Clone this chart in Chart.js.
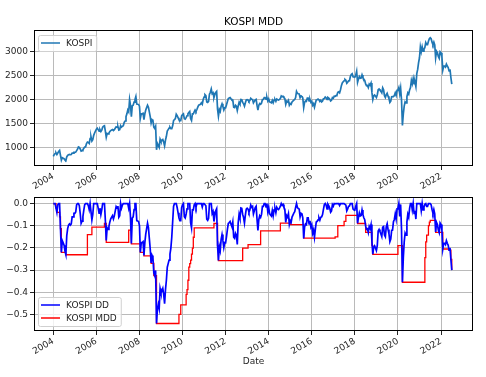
<!DOCTYPE html>
<html>
<head>
<meta charset="utf-8">
<script src="https://cdn.jsdelivr.net/npm/chart.js@4.4.1/dist/chart.umd.min.js"></script>
<style>
  html, body { margin: 0; padding: 0; background: #fff; }
  #wrap { position: relative; width: 486px; height: 377px; }
  canvas { position: absolute; left: 0; }
  #topChart { top: 0; }
  #bottomChart { top: 190px; }
</style>
</head>
<body>
<div id="wrap">
  <canvas id="topChart" width="486" height="190"></canvas>
  <canvas id="bottomChart" width="486" height="187"></canvas>
</div>
<script>
// Muestras quincenales (día 1 y 16 de cada mes), enero 2004 - julio 2022
const startYear = 2004;
const stepsPerYear = 24;

const kospi = [
  810, 845, 870, 885, 850, 880, 915, 936, 830, 730, 780, 770, 760, 735, 720, 800, 830, 845, 850, 845, 850, 880, 880, 895,
  895, 900, 930, 960, 1010, 1000, 965, 920, 930, 950, 980, 1005, 1010, 1080, 1110, 1100, 1080, 1180, 1220, 1130, 1160, 1250, 1300, 1340,
  1379, 1400, 1370, 1340, 1370, 1330, 1360, 1420, 1440, 1450, 1340, 1210, 1290, 1280, 1300, 1330, 1350, 1360, 1370, 1350, 1370, 1400, 1430, 1420,
  1434, 1360, 1370, 1450, 1420, 1440, 1453, 1520, 1550, 1640, 1700, 1780, 1743, 2000, 1880, 1640, 1870, 1880, 1946, 2000, 2064, 1906, 1900, 1897,
  1860, 1610, 1700, 1700, 1710, 1580, 1700, 1780, 1830, 1880, 1840, 1740, 1640, 1510, 1580, 1560, 1420, 1393, 1440, 947, 1080, 1040, 1000, 1170,
  1124, 1140, 1160, 1110, 1030, 1150, 1230, 1340, 1370, 1400, 1420, 1390, 1390, 1450, 1560, 1580, 1600, 1690, 1660, 1620, 1580, 1560, 1560, 1660,
  1682, 1700, 1600, 1590, 1620, 1660, 1700, 1730, 1750, 1600, 1560, 1700, 1700, 1740, 1780, 1750, 1790, 1840, 1880, 1890, 1900, 1930, 1900, 2000,
  2051, 2100, 2080, 1950, 1940, 1960, 2110, 2150, 2220, 2120, 2140, 2040, 2100, 2150, 2170, 1800, 1650, 1790, 1750, 1860, 1910, 1850, 1780, 1830,
  1826, 1890, 1960, 2020, 2030, 2040, 2014, 1990, 1990, 1840, 1830, 1880, 1860, 1770, 1860, 1940, 1905, 2000, 1996, 1940, 1912, 1860, 1933, 1990,
  1997, 1990, 1960, 1980, 2026, 2005, 2000, 1930, 1960, 1990, 2001, 1880, 1780, 1880, 1915, 1900, 1926, 2000, 2000, 2040, 2040, 2010, 2045, 1970,
  2011, 1950, 1941, 1930, 1980, 1930, 1985, 2000, 1961, 2010, 1995, 1990, 2002, 2020, 2076, 2060, 2068, 2040, 2020, 1900, 1964, 1950, 1981, 1880,
  1916, 1900, 1950, 1950, 1986, 2000, 2041, 2170, 2130, 2120, 2115, 2040, 2074, 2070, 2030, 1830, 1940, 1970, 1963, 2030, 2029, 1970, 2000, 1940,
  1961, 1880, 1912, 1840, 1920, 1990, 1996, 2010, 1994, 1960, 1983, 1950, 1970, 2016, 2020, 2050, 2035, 2000, 2043, 2030, 2008, 1970, 1983, 2040,
  2026, 2070, 2067, 2080, 2091, 2150, 2160, 2140, 2205, 2290, 2347, 2370, 2392, 2420, 2402, 2340, 2363, 2390, 2394, 2480, 2523, 2540, 2476, 2470,
  2467, 2510, 2590, 2360, 2430, 2480, 2445, 2450, 2515, 2460, 2423, 2400, 2326, 2290, 2295, 2250, 2322, 2300, 2343, 2150, 2000, 2080, 2096, 2070,
  2041, 2100, 2204, 2220, 2195, 2170, 2140, 2245, 2203, 2080, 2041, 2100, 2130, 2070, 2024, 1940, 1967, 2060, 2063, 2060, 2083, 2140, 2087, 2190,
  2197, 2250, 2120, 2240, 1990, 1455, 1700, 1860, 1950, 1930, 2060, 2140, 2110, 2200, 2250, 2400, 2330, 2440, 2330, 2360, 2270, 2540, 2630, 2770,
  2873, 3100, 3000, 3100, 3010, 3050, 3090, 3190, 3150, 3150, 3220, 3270, 3290, 3270, 3200, 3150, 3200, 3140, 2870, 3010, 2980, 2900, 2860, 3000,
  2977, 2900, 2615, 2700, 2700, 2680, 2740, 2700, 2670, 2600, 2630, 2460, 2320
];

// KOSPI DD (caída desde el máximo de un año)
const kospiDD = [
  0, 0, 0, 0, -0.04, -0.006, 0, 0, -0.113, -0.22, -0.167, -0.177, -0.188, -0.215, -0.231, -0.145, -0.113, -0.097, -0.092, -0.097, -0.092, -0.06, -0.06, -0.044,
  -0.044, -0.038, -0.006, 0, 0, -0.01, -0.045, -0.089, -0.079, -0.059, -0.03, -0.005, 0, 0, 0, -0.009, -0.027, 0, 0, -0.074, -0.049, 0, 0, 0,
  0, 0, -0.021, -0.043, -0.021, -0.05, -0.029, 0, 0, 0, -0.076, -0.166, -0.11, -0.117, -0.103, -0.083, -0.069, -0.062, -0.055, -0.069, -0.055, -0.034, -0.014, -0.021,
  -0.011, -0.062, -0.055, 0, -0.021, -0.007, 0, 0, 0, 0, 0, 0, -0.021, 0, -0.06, -0.18, -0.065, -0.06, -0.027, 0, 0, -0.077, -0.079, -0.081,
  -0.099, -0.22, -0.176, -0.176, -0.172, -0.234, -0.176, -0.138, -0.113, -0.089, -0.109, -0.157, -0.205, -0.268, -0.234, -0.244, -0.312, -0.325, -0.302, -0.541, -0.477, -0.454, -0.474, -0.383,
  -0.402, -0.394, -0.383, -0.41, -0.452, -0.388, -0.346, -0.287, -0.271, -0.255, -0.228, -0.201, -0.152, -0.082, -0.013, 0, 0, 0, -0.018, -0.041, -0.065, -0.077, -0.077, -0.018,
  -0.005, 0, -0.059, -0.065, -0.047, -0.024, 0, 0, 0, -0.086, -0.109, -0.029, -0.029, -0.006, 0, -0.017, 0, 0, 0, 0, 0, 0, -0.016, 0,
  0, 0, -0.01, -0.071, -0.076, -0.067, 0, 0, 0, -0.045, -0.036, -0.081, -0.054, -0.032, -0.023, -0.189, -0.257, -0.194, -0.212, -0.162, -0.14, -0.167, -0.198, -0.176,
  -0.177, -0.149, -0.117, -0.09, -0.086, -0.081, -0.093, -0.104, -0.083, -0.152, -0.157, -0.134, -0.143, -0.184, -0.088, -0.049, -0.066, -0.02, -0.022, -0.049, -0.063, -0.088, -0.052, -0.025,
  -0.021, -0.025, -0.039, -0.029, -0.007, -0.017, -0.013, -0.047, -0.033, -0.018, -0.012, -0.072, -0.121, -0.072, -0.055, -0.062, -0.049, -0.013, -0.013, 0, 0, -0.015, 0, -0.037,
  -0.017, -0.046, -0.051, -0.056, -0.032, -0.056, -0.029, -0.022, -0.041, -0.017, -0.024, -0.027, -0.021, -0.012, 0, -0.008, -0.004, -0.017, -0.027, -0.085, -0.054, -0.061, -0.046, -0.094,
  -0.077, -0.085, -0.061, -0.061, -0.043, -0.037, -0.017, 0, -0.018, -0.023, -0.025, -0.06, -0.044, -0.046, -0.065, -0.157, -0.106, -0.092, -0.095, -0.065, -0.065, -0.092, -0.078, -0.106,
  -0.096, -0.134, -0.119, -0.152, -0.115, -0.083, -0.08, -0.074, -0.064, -0.075, -0.062, -0.06, -0.05, -0.026, -0.005, 0, -0.007, -0.024, -0.003, -0.01, -0.02, -0.039, -0.033, -0.005,
  -0.012, 0, -0.001, 0, 0, 0, 0, -0.009, 0, 0, 0, 0, 0, 0, -0.007, -0.033, -0.024, -0.012, -0.011, 0, 0, 0, -0.025, -0.028,
  -0.029, -0.012, 0, -0.089, -0.062, -0.042, -0.056, -0.054, -0.029, -0.05, -0.064, -0.073, -0.102, -0.116, -0.114, -0.131, -0.103, -0.112, -0.095, -0.17, -0.228, -0.197, -0.191, -0.201,
  -0.212, -0.189, -0.124, -0.117, -0.127, -0.137, -0.149, -0.107, -0.104, -0.142, -0.15, -0.104, -0.091, -0.117, -0.136, -0.172, -0.16, -0.121, -0.12, -0.082, -0.072, -0.047, -0.07, -0.024,
  -0.021, 0, -0.058, -0.004, -0.116, -0.355, -0.244, -0.173, -0.133, -0.142, -0.084, -0.049, -0.062, -0.022, 0, 0, -0.029, 0, -0.045, -0.033, -0.07, 0, 0, 0,
  0, 0, -0.032, 0, -0.029, -0.016, -0.003, 0, -0.013, -0.013, 0, 0, 0, -0.006, -0.027, -0.043, -0.027, -0.046, -0.128, -0.085, -0.094, -0.119, -0.131, -0.088,
  -0.095, -0.119, -0.205, -0.179, -0.179, -0.185, -0.167, -0.179, -0.188, -0.21, -0.2, -0.252, -0.3
];

// KOSPI MDD (mínimo móvil de un año del DD)
const kospiMDD = [
  0, 0, 0, -0.02, -0.04, -0.04, -0.04, -0.06, -0.113, -0.22, -0.22, -0.22,
  -0.22, -0.22, -0.231, -0.231, -0.231, -0.231, -0.231, -0.231, -0.231, -0.231, -0.231, -0.231,
  -0.231, -0.231, -0.231, -0.231, -0.231, -0.231, -0.231, -0.231, -0.231, -0.231, -0.231, -0.231,
  -0.231, -0.231, -0.14, -0.14, -0.14, -0.14, -0.14, -0.106, -0.106, -0.106, -0.106, -0.106,
  -0.106, -0.106, -0.106, -0.106, -0.106, -0.106, -0.106, -0.106, -0.106, -0.09, -0.09, -0.175,
  -0.175, -0.175, -0.175, -0.175, -0.175, -0.175, -0.175, -0.175, -0.175, -0.175, -0.175, -0.175,
  -0.175, -0.175, -0.175, -0.175, -0.175, -0.175, -0.175, -0.175, -0.175, -0.175, -0.175, -0.175,
  -0.12, -0.12, -0.12, -0.182, -0.182, -0.182, -0.182, -0.182, -0.182, -0.182, -0.182, -0.182,
  -0.182, -0.22, -0.22, -0.22, -0.22, -0.236, -0.236, -0.236, -0.236, -0.236, -0.236, -0.236,
  -0.236, -0.27, -0.27, -0.27, -0.325, -0.325, -0.325, -0.541, -0.541, -0.541, -0.541, -0.541,
  -0.541, -0.541, -0.541, -0.541, -0.541, -0.541, -0.541, -0.541, -0.541, -0.541, -0.541, -0.541,
  -0.541, -0.541, -0.541, -0.541, -0.541, -0.541, -0.541, -0.541, -0.5, -0.5, -0.457, -0.457,
  -0.457, -0.457, -0.457, -0.457, -0.41, -0.388, -0.346, -0.287, -0.271, -0.255, -0.228, -0.201,
  -0.152, -0.11, -0.11, -0.11, -0.11, -0.11, -0.11, -0.11, -0.11, -0.11, -0.11, -0.11,
  -0.11, -0.11, -0.11, -0.11, -0.11, -0.11, -0.11, -0.11, -0.11, -0.11, -0.11, -0.09,
  -0.09, -0.09, -0.09, -0.19, -0.257, -0.257, -0.257, -0.257, -0.257, -0.257, -0.257, -0.257,
  -0.257, -0.257, -0.257, -0.257, -0.257, -0.257, -0.257, -0.257, -0.257, -0.257, -0.257, -0.257,
  -0.257, -0.257, -0.257, -0.257, -0.257, -0.257, -0.257, -0.201, -0.201, -0.201, -0.201, -0.201,
  -0.201, -0.185, -0.185, -0.185, -0.185, -0.185, -0.185, -0.185, -0.185, -0.185, -0.185, -0.185,
  -0.185, -0.185, -0.185, -0.123, -0.123, -0.123, -0.123, -0.123, -0.123, -0.123, -0.123, -0.123,
  -0.123, -0.123, -0.123, -0.123, -0.123, -0.123, -0.123, -0.123, -0.123, -0.123, -0.123, -0.123,
  -0.123, -0.088, -0.088, -0.088, -0.088, -0.088, -0.088, -0.088, -0.088, -0.088, -0.088, -0.088,
  -0.095, -0.095, -0.095, -0.095, -0.095, -0.095, -0.095, -0.095, -0.095, -0.095, -0.095, -0.095,
  -0.095, -0.095, -0.095, -0.156, -0.156, -0.156, -0.156, -0.156, -0.156, -0.156, -0.156, -0.156,
  -0.156, -0.156, -0.156, -0.156, -0.156, -0.156, -0.156, -0.156, -0.156, -0.156, -0.156, -0.156,
  -0.156, -0.156, -0.156, -0.156, -0.156, -0.156, -0.156, -0.156, -0.156, -0.156, -0.156, -0.156,
  -0.156, -0.156, -0.15, -0.15, -0.15, -0.1, -0.1, -0.1, -0.1, -0.1, -0.1, -0.1,
  -0.08, -0.08, -0.053, -0.053, -0.053, -0.053, -0.053, -0.053, -0.053, -0.053, -0.053, -0.053,
  -0.053, -0.053, -0.053, -0.09, -0.09, -0.09, -0.09, -0.09, -0.09, -0.09, -0.09, -0.09,
  -0.13, -0.13, -0.13, -0.13, -0.13, -0.13, -0.13, -0.19, -0.229, -0.229, -0.229, -0.229,
  -0.229, -0.229, -0.229, -0.229, -0.229, -0.229, -0.229, -0.229, -0.229, -0.229, -0.229, -0.229,
  -0.229, -0.229, -0.229, -0.229, -0.229, -0.229, -0.229, -0.229, -0.229, -0.229, -0.229, -0.229,
  -0.19, -0.19, -0.19, -0.19, -0.19, -0.355, -0.355, -0.355, -0.355, -0.355, -0.355, -0.355,
  -0.355, -0.355, -0.355, -0.355, -0.355, -0.355, -0.355, -0.355, -0.355, -0.355, -0.355, -0.355,
  -0.355, -0.355, -0.355, -0.355, -0.355, -0.355, -0.244, -0.173, -0.142, -0.142, -0.1, -0.084,
  -0.076, -0.076, -0.076, -0.076, -0.076, -0.076, -0.13, -0.13, -0.13, -0.13, -0.13, -0.13,
  -0.13, -0.13, -0.205, -0.205, -0.205, -0.205, -0.205, -0.205, -0.205, -0.21, -0.21, -0.252, -0.3
];

// Ejes
const yearTicks = [2004, 2006, 2008, 2010, 2012, 2014, 2016, 2018, 2020, 2022];
const priceTicks = [1000, 1500, 2000, 2500, 3000];
const ddTicks = [0, -0.1, -0.2, -0.3, -0.4, -0.5];

const fontFamily = '"DejaVu Sans", sans-serif';
const tickFont = { family: fontFamily, size: 9 };
const gridColor = '#bababa';
const inkColor = '#262626';

const dates = kospi.map((_, i) => startYear + i / stepsPerYear);
const toPoints = values => values.map((v, i) => ({ x: dates[i], y: v }));

// Marco, título y leyenda al estilo matplotlib
function mplDecor(title, legendItems, legendCorner) {
    return {
        id: 'mplDecor',
        afterDatasetsDraw(chart) {
            const ctx = chart.ctx;
            const a = chart.chartArea;
            ctx.save();
            ctx.strokeStyle = '#000';
            ctx.lineWidth = 1;
            ctx.strokeRect(Math.round(a.left) + 0.5, Math.round(a.top) + 0.5,
                Math.round(a.right - a.left) - 1, Math.round(a.bottom - a.top) - 1);

            if (title) {
                ctx.fillStyle = '#000';
                ctx.font = '10.5px ' + fontFamily;
                ctx.textAlign = 'center';
                ctx.textBaseline = 'middle';
                ctx.fillText(title, (a.left + a.right) / 2, a.top - 8);
            }

            ctx.font = '9px ' + fontFamily;
            const textW = Math.max(...legendItems.map(it => ctx.measureText(it.label).width));
            const w = 28 + textW + 4;
            const h = legendItems.length * 13 + 3;
            const x = a.left + 4;
            const y = legendCorner === 'top' ? a.top + 5 : a.bottom - 5 - h;
            ctx.beginPath();
            ctx.roundRect(x + 0.5, y + 0.5, w, h, 2);
            ctx.fillStyle = 'rgba(255,255,255,0.8)';
            ctx.fill();
            ctx.strokeStyle = '#d0d0d0';
            ctx.lineWidth = 1;
            ctx.stroke();
            legendItems.forEach((it, k) => {
                const cy = y + 8 + k * 13;
                ctx.beginPath();
                ctx.moveTo(x + 3, cy);
                ctx.lineTo(x + 22, cy);
                ctx.strokeStyle = it.color;
                ctx.lineWidth = 1.5;
                ctx.stroke();
                ctx.fillStyle = inkColor;
                ctx.textAlign = 'left';
                ctx.textBaseline = 'middle';
                ctx.fillText(it.label, x + 28, cy + 0.5);
            });
            ctx.restore();
        }
    };
}

function xScale(height, withTitle) {
    return {
        type: 'linear',
        min: 2003.104,
        max: 2023.485,
        afterBuildTicks: axis => { axis.ticks = yearTicks.map(v => ({ value: v })); },
        afterFit: axis => { axis.height = height; },
        grid: { color: gridColor, lineWidth: 1, tickLength: 4, tickColor: inkColor },
        border: { display: false },
        ticks: {
            autoSkip: false, maxRotation: 30, minRotation: 30, padding: 1,
            color: inkColor, font: tickFont, callback: v => String(v)
        },
        title: {
            display: withTitle, text: 'Date', color: inkColor,
            font: tickFont, padding: { top: 0, bottom: 10 }
        }
    };
}

function yScale(min, max, tickValues, format) {
    return {
        min: min,
        max: max,
        afterBuildTicks: axis => { axis.ticks = tickValues.map(v => ({ value: v })); },
        afterFit: axis => { axis.width = 34; },
        grid: { color: gridColor, lineWidth: 1, tickLength: 4, tickColor: inkColor },
        border: { display: false },
        ticks: { padding: 2, color: inkColor, font: tickFont, callback: format }
    };
}

const baseOptions = {
    responsive: false,
    animation: false,
    parsing: false,
    normalized: true,
    plugins: { legend: { display: false }, tooltip: { enabled: false } },
    elements: { point: { radius: 0 }, line: { tension: 0 } }
};

new Chart(document.getElementById('topChart'), {
    type: 'line',
    data: {
        datasets: [{
            label: 'KOSPI',
            data: toPoints(kospi),
            borderColor: '#1f77b4',
            borderWidth: 1.7
        }]
    },
    options: {
        ...baseOptions,
        layout: { padding: { top: 30, right: 13, left: 0, bottom: 0 } },
        scales: {
            x: xScale(24, false),
            y: yScale(609, 3454, priceTicks, v => String(v))
        }
    },
    plugins: [mplDecor('KOSPI MDD', [{ label: 'KOSPI', color: '#1f77b4' }], 'top')]
});

new Chart(document.getElementById('bottomChart'), {
    type: 'line',
    data: {
        datasets: [
            {
                label: 'KOSPI DD',
                data: toPoints(kospiDD),
                borderColor: '#0000ff',
                borderWidth: 1.7
            },
            {
                label: 'KOSPI MDD',
                data: toPoints(kospiMDD),
                borderColor: '#ff0000',
                borderWidth: 1.3,
                stepped: true
            }
        ]
    },
    options: {
        ...baseOptions,
        layout: { padding: { top: 4, right: 13, left: 0, bottom: 0 } },
        scales: {
            x: xScale(46, true),
            y: yScale(-0.5748, 0.0277, ddTicks,
                v => (v < 0 ? '\u2212' : '') + Math.abs(v).toFixed(1))
        }
    },
    plugins: [mplDecor(null, [
        { label: 'KOSPI DD', color: '#0000ff' },
        { label: 'KOSPI MDD', color: '#ff0000' }
    ], 'bottom')]
});
</script>
</body>
</html>
